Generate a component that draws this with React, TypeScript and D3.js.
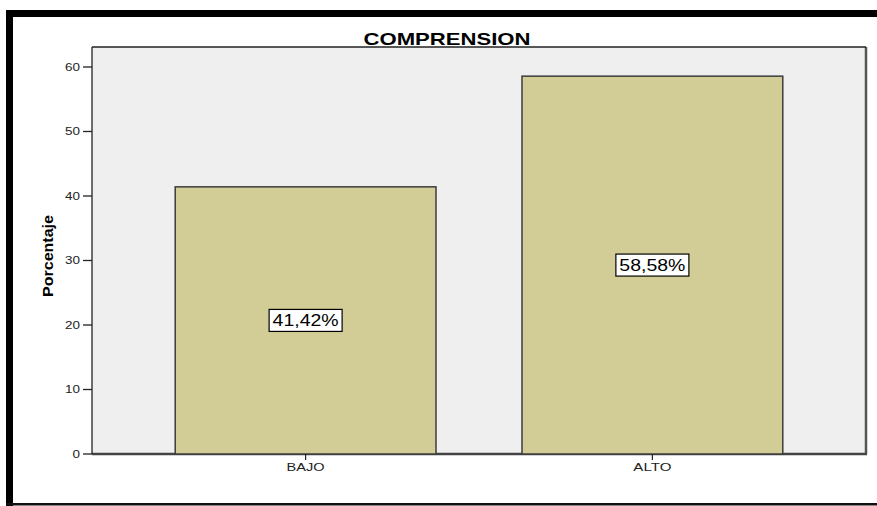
import React from "react";
import * as d3 from "d3";

const categories = ["BAJO", "ALTO"];
const values = [41.42, 58.58];
const valueLabels = ["41,42%", "58,58%"];
const yTicks = [0, 10, 20, 30, 40, 50, 60];
const title = "COMPRENSION";
const yTitle = "Porcentaje";

export default function App() {
  const W = 877, H = 506;
  const left = 92, right = 866, top = 47, bottom = 454;
  const y = d3.scaleLinear().domain([0, 63.1]).range([bottom, top]);
  const x = d3.scaleBand<string>().domain(categories).range([left, right]).paddingInner(0.248).paddingOuter(0.24);
  const font = "'Liberation Sans', Arial, sans-serif";
  return (
    <div style={{ position: "absolute", left: 0, top: 0, width: W, height: H, background: "#fff" }}>
      <svg width={W} height={H} style={{ display: "block" }}>
        {/* outer frame */}
        <rect x={6} y={10} width={W} height={7} fill="#000" />
        <rect x={6} y={10} width={7} height={H - 10} fill="#000" />
        <rect x={6} y={503} width={W} height={2.5} fill="#111" />
        {/* plot area */}
        <rect x={left} y={top} width={right - left} height={bottom - top} fill="#efefef" />
        <line x1={right} x2={right} y1={top} y2={bottom} stroke="#555" strokeWidth={2.5} />
        <line x1={left} x2={right + 1} y1={bottom} y2={bottom} stroke="#444" strokeWidth={2.5} />
        <line x1={left} x2={right} y1={top} y2={top} stroke="#222" strokeWidth={1.3} />
        <line x1={left} x2={left} y1={top} y2={bottom} stroke="#222" strokeWidth={1.3} />
        {/* title */}
        <text x={447} y={45} textAnchor="middle" fontFamily={font} fontWeight="bold" fontSize={17} textLength={167} lengthAdjust="spacingAndGlyphs" fill="#000">{title}</text>
        {/* y axis */}
        {yTicks.map((t) => (
          <g key={t}>
            <line x1={83} x2={left} y1={y(t)} y2={y(t)} stroke="#222" strokeWidth={1.3} />
            <text x={80} y={y(t)} dy="0.35em" textAnchor="end" fontFamily={font} fontSize={11} textLength={String(t).length * 7.5} lengthAdjust="spacingAndGlyphs" fill="#222">{t}</text>
          </g>
        ))}
        <text transform={`translate(53,256) rotate(-90)`} textAnchor="middle" fontFamily={font} fontWeight="bold" fontSize={14} textLength={82} lengthAdjust="spacingAndGlyphs" fill="#000">{yTitle}</text>
        {/* bars */}
        {categories.map((c, i) => {
          const bx = x(c)!;
          const bw = x.bandwidth();
          const by = y(values[i]);
          const cx = bx + bw / 2;
          const cy = y(values[i] / 2);
          return (
            <g key={c}>
              <rect x={bx} y={by} width={bw} height={bottom - by} fill="#d2cd96" stroke="#3c3c3c" strokeWidth={1.5} />
              <line x1={cx} x2={cx} y1={bottom} y2={460} stroke="#222" strokeWidth={1.2} />
              <text x={cx} y={467} dy="0.35em" textAnchor="middle" fontFamily={font} fontSize={11} textLength={38} lengthAdjust="spacingAndGlyphs" fill="#222">{c}</text>
              <rect x={cx - 36.5} y={cy - 11} width={73} height={22} fill="#fff" stroke="#000" strokeWidth={1.2} />
              <text x={cx} y={cy} dy="0.36em" textAnchor="middle" fontFamily={font} fontSize={16} textLength={66} lengthAdjust="spacingAndGlyphs" fill="#000">{valueLabels[i]}</text>
            </g>
          );
        })}
      </svg>
    </div>
  );
}
